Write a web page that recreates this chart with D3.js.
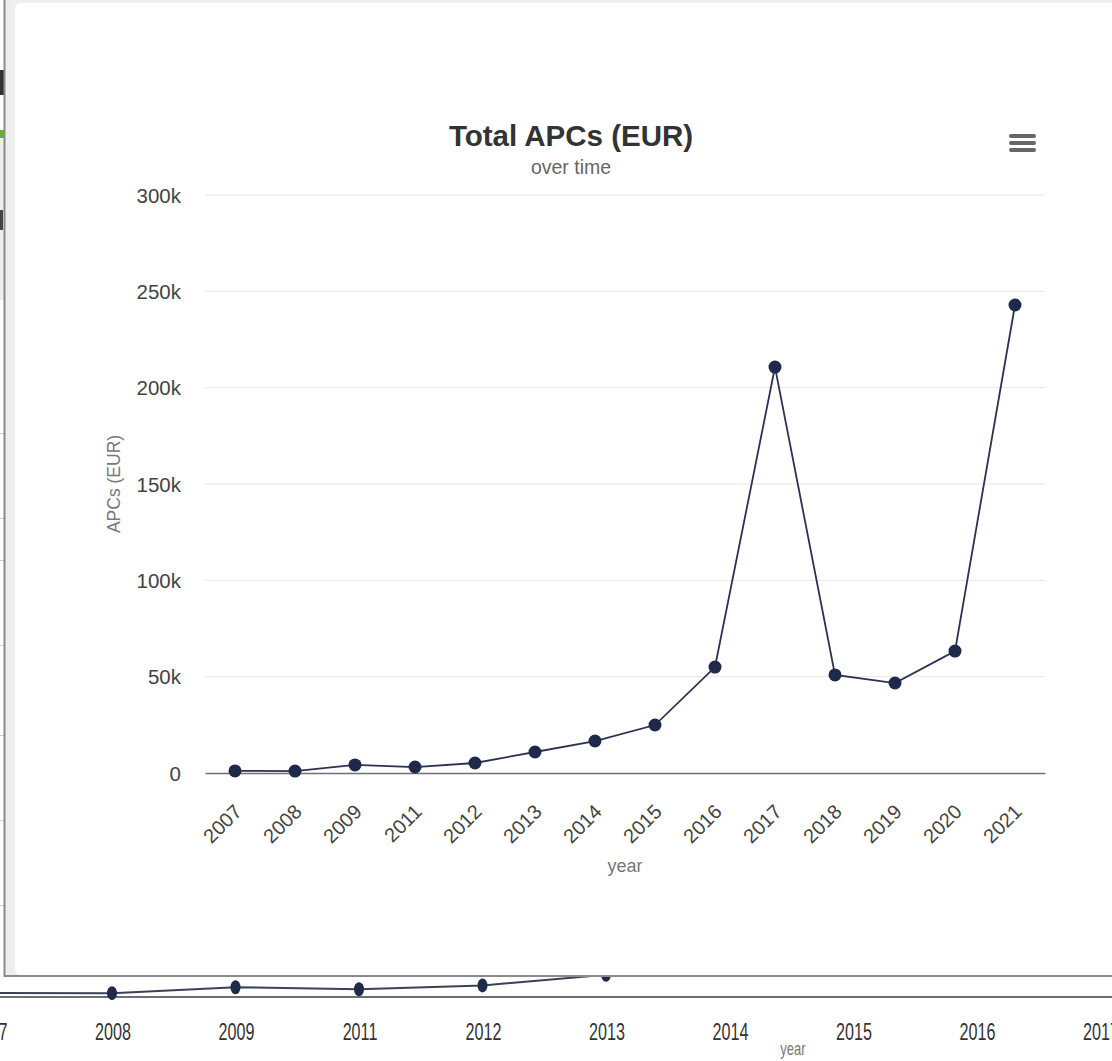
<!DOCTYPE html>
<html>
<head>
<meta charset="utf-8">
<script src="https://cdn.jsdelivr.net/npm/d3@7"></script>
<style>
  body { margin: 0; background: #fff; }
  svg { display: block; font-family: "Liberation Sans", Arial, sans-serif; }
</style>
</head>
<body>
<div id="chart"></div>
<script>
// values
const years = ["2007", "2008", "2009", "2011", "2012", "2013", "2014", "2015", "2016", "2017", "2018", "2019", "2020", "2021"];
const apcs = [1100, 1000, 4200, 3100, 5200, 10900, 16600, 24900, 55000, 210700, 50900, 46700, 63300, 242900];
const yTicks = [0, 50000, 100000, 150000, 200000, 250000, 300000];

const W = 1112, H = 1061;
const fmt = d => d === 0 ? "0" : (d / 1000) + "k";
const data = years.map((y, i) => ({year: y, value: apcs[i]}));

const svg = d3.select("#chart").append("svg")
    .attr("width", W)
    .attr("height", H);

svg.append("rect").attr("width", W).attr("height", H).attr("fill", "#fff");

// ---- page behind the modal (bigger copy of the same chart) ----
const bg = svg.append("g");

const bx = d3.scalePoint().domain(years).range([-11.5, -11.5 + 123.5 * 13]);
const by = d3.scaleLinear().domain([0, 300000]).range([997, 442]);

bg.append("line")
    .attr("x1", 0).attr("x2", W)
    .attr("y1", by(0)).attr("y2", by(0))
    .attr("stroke", "#6e6e6e").attr("stroke-width", 2);

bg.append("path")
    .datum(data)
    .attr("fill", "none")
    .attr("stroke", "#3b4256")
    .attr("stroke-width", 2)
    .attr("d", d3.line().x(d => bx(d.year)).y(d => by(d.value) - 2));

bg.selectAll("ellipse")
    .data(data)
    .enter()
    .append("ellipse")
    .attr("cx", d => bx(d.year))
    .attr("cy", d => by(d.value) - 2)
    .attr("rx", 5).attr("ry", 7)
    .attr("fill", "#1f2a4a");

bg.selectAll("text.bgx")
    .data(years)
    .enter()
    .append("text")
    .attr("class", "bgx")
    .attr("transform", d => `translate(${bx(d) + 1},1040) scale(0.95,1.45)`)
    .attr("text-anchor", "middle")
    .attr("font-size", 17)
    .attr("fill", "#333")
    .text(d => d);

bg.append("text")
    .attr("transform", "translate(793,1055) scale(1,1.4)")
    .attr("text-anchor", "middle")
    .attr("font-size", 13)
    .attr("fill", "#777")
    .text("year");

// scraps of the page visible at the very left
bg.append("rect").attr("x", 0).attr("y", 70).attr("width", 4).attr("height", 25).attr("fill", "#333");
bg.append("rect").attr("x", 0).attr("y", 130).attr("width", 4).attr("height", 8).attr("fill", "#66b22e");
bg.append("rect").attr("x", 0).attr("y", 138).attr("width", 4).attr("height", 162).attr("fill", "#eeeeee");
bg.append("rect").attr("x", 0).attr("y", 210).attr("width", 3).attr("height", 20).attr("fill", "#444");
[433, 518, 560, 645, 735, 820, 905].forEach(y => {
  bg.append("rect").attr("x", 0).attr("y", y).attr("width", 4).attr("height", 1).attr("fill", "#ccc");
});

// ---- modal ----
svg.append("rect")
    .attr("x", 4.5).attr("y", -10)
    .attr("width", 1200).attr("height", 986)
    .attr("fill", "#eeeeee")
    .attr("stroke", "#8a8a8a")
    .attr("stroke-width", 2);

svg.append("rect")
    .attr("x", 15).attr("y", 3)
    .attr("width", 1200).attr("height", 972)
    .attr("rx", 6)
    .attr("fill", "#fff");

// ---- main chart ----
const margin = {left: 205, right: 1045, top: 195, bottom: 773};

const x = d3.scaleBand()
    .domain(years)
    .range([margin.left, margin.right]);

const y = d3.scaleLinear()
    .domain([0, 300000])
    .range([margin.bottom, margin.top]);

const cx = d => x(d) + x.bandwidth() / 2;

// gridlines
svg.append("g")
    .selectAll("line")
    .data(yTicks.filter(t => t > 0))
    .enter()
    .append("line")
    .attr("x1", margin.left).attr("x2", margin.right)
    .attr("y1", d => y(d)).attr("y2", d => y(d))
    .attr("stroke", "#e6e6e6")
    .attr("stroke-width", 1);

// y axis labels
const yAxis = svg.append("g")
    .attr("transform", `translate(${margin.left - 24},0)`)
    .call(d3.axisLeft(y).tickValues(yTicks).tickFormat(fmt).tickSize(0).tickPadding(0));
yAxis.select(".domain").remove();
yAxis.selectAll("text")
    .attr("font-family", "Liberation Sans, Arial, sans-serif")
    .attr("font-size", 20.5)
    .attr("fill", "#444")
    .attr("dy", "0.35em");

// x axis
const xAxis = svg.append("g")
    .attr("transform", `translate(0,${y(0)})`)
    .call(d3.axisBottom(x).tickSize(0).tickPadding(0));
xAxis.select(".domain")
    .attr("stroke", "#707070")
    .attr("stroke-width", 1.6);
xAxis.selectAll("text")
    .attr("font-family", "Liberation Sans, Arial, sans-serif")
    .attr("font-size", 20)
    .attr("fill", "#444")
    .attr("text-anchor", "end")
    .attr("dy", 0)
    .attr("y", 0)
    .attr("transform", "translate(8,40) rotate(-45)");

// line + markers
svg.append("path")
    .datum(data)
    .attr("fill", "none")
    .attr("stroke", "#2b3350")
    .attr("stroke-width", 1.8)
    .attr("d", d3.line().x(d => cx(d.year)).y(d => y(d.value)));

svg.selectAll("circle.pt")
    .data(data)
    .enter()
    .append("circle")
    .attr("class", "pt")
    .attr("cx", d => cx(d.year))
    .attr("cy", d => y(d.value))
    .attr("r", 6.5)
    .attr("fill", "#1f2a4a");

// titles
svg.append("text")
    .attr("x", 571).attr("y", 146)
    .attr("text-anchor", "middle")
    .attr("font-size", 29.5)
    .attr("font-weight", "bold")
    .attr("fill", "#333")
    .text("Total APCs (EUR)");

svg.append("text")
    .attr("x", 571).attr("y", 174)
    .attr("text-anchor", "middle")
    .attr("font-size", 19.5)
    .attr("fill", "#666")
    .text("over time");

svg.append("text")
    .attr("transform", `translate(120,${(margin.top + margin.bottom) / 2}) rotate(-90)`)
    .attr("text-anchor", "middle")
    .attr("font-size", 17.5)
    .attr("fill", "#777")
    .text("APCs (EUR)");

svg.append("text")
    .attr("x", (margin.left + margin.right) / 2).attr("y", 872)
    .attr("text-anchor", "middle")
    .attr("font-size", 18)
    .attr("fill", "#777")
    .text("year");

// export menu icon
svg.append("g")
    .selectAll("line")
    .data([0, 1, 2])
    .enter()
    .append("line")
    .attr("x1", 1011).attr("x2", 1034)
    .attr("y1", i => 136 + i * 7).attr("y2", i => 136 + i * 7)
    .attr("stroke", "#666")
    .attr("stroke-width", 4)
    .attr("stroke-linecap", "round");
</script>
</body>
</html>
